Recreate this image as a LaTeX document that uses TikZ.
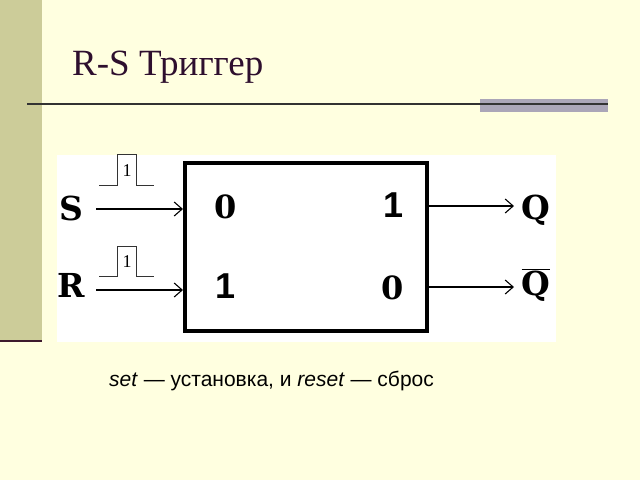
\documentclass[tikz,border=0pt]{standalone}
\usepackage{fontspec}
\setmainfont{Liberation Serif}
\newfontfamily\arialf{Liberation Sans}
\newfontfamily\dvserif{DejaVu Serif}
\usetikzlibrary{arrows.meta,positioning}
\definecolor{paper}{HTML}{FFFFE0}
\definecolor{side}{HTML}{CCCC99}
\definecolor{sidel}{HTML}{3D1A2E}
\definecolor{ttl}{HTML}{2E0F2E}
\definecolor{bar}{HTML}{ABA6B8}

\begin{document}
\begin{tikzpicture}[
  x=1pt, y=-1pt,
  lbl/.style   = {font=\dvserif\fontsize{33}{35}\selectfont\bfseries, inner sep=0pt},
  bitS/.style  = {font=\arialf\fontsize{36}{38}\selectfont\bfseries, inner sep=0pt},
  bitR/.style  = {font=\dvserif\fontsize{32}{34}\selectfont\bfseries, inner sep=0pt},
  trig/.style  = {draw, line width=4pt, minimum width=242pt, minimum height=168pt,
                  inner sep=0pt},
  arr/.style   = {-{Straight Barb[length=8pt,width=14pt]}, line width=1.1pt},
  pulse/.style = {line width=.8pt, draw=black!80},
  plbl/.style  = {font=\fontsize{18}{18}\selectfont, inner sep=0pt},
]
% ── фон слайда ──────────────────────────────────────────────────────────
\useasboundingbox (0,0) rectangle (640,480);
\fill[paper] (0,0) rectangle (640,480);
\fill[side] (0,0) rectangle (42,340);
\draw[sidel, line width=2.6pt] (0,341) -- (42,341);
\fill[bar] (480,99) rectangle (608,112);
\draw[black!80, line width=1.3pt] (27,104) -- (608,104);
\node[anchor=base west, inner sep=0pt, text=ttl, font=\fontsize{37}{40}\selectfont]
     (title) at (72,75) {R-S Триггер};
\fill[white] (57,155) rectangle (556,342);

% ── триггер ─────────────────────────────────────────────────────────────
\node[trig] (rs) at (306,247) {};
\node[bitR] (b00) at (226,207) {0};
\node[bitS] (b01) at (394,205) {1};
\node[bitS] (b10) at (226,286) {1};
\node[bitR] (b11) at (393,288) {0};

% ── входы и выходы ──────────────────────────────────────────────────────
\node[lbl] (S) at (71,208) {S};
\node[lbl] (R) at (71,285) {R};
\node[lbl] (Q) at (536,210) {Q};
\node[lbl] (nQ) at (536,285) {$\overline{\mbox{Q}}$};
\coordinate (sIn) at (96,209);
\coordinate (rIn) at (96,290);
\coordinate (qOut) at (514,206);
\coordinate (nqOut) at (514,287);

\draw[arr] (sIn) -- (sIn -| rs.west);
\draw[arr] (rIn) -- (rIn -| rs.west);
\draw[arr] (qOut -| rs.east) -- (qOut);
\draw[arr] (nqOut -| rs.east) -- (nqOut);

% импульсы над входами
\foreach \yb/\yt/\nm in {185/154/pS, 276/246/pR} {
  \draw[pulse] (99,\yb) -- (117,\yb) -- (117,\yt) -- (136,\yt)
               -- (136,\yb) -- (154,\yb);
  \node[plbl] (\nm) at (127,{(\yb+\yt)/2+1}) {1};
}

% ── подпись ─────────────────────────────────────────────────────────────
\node[anchor=base west, inner sep=0pt, font=\arialf\fontsize{21}{23}\selectfont]
     (cap) at (109,386) {\textit{set} — установка, и \textit{reset} — сброс};
\end{tikzpicture}
\end{document}
